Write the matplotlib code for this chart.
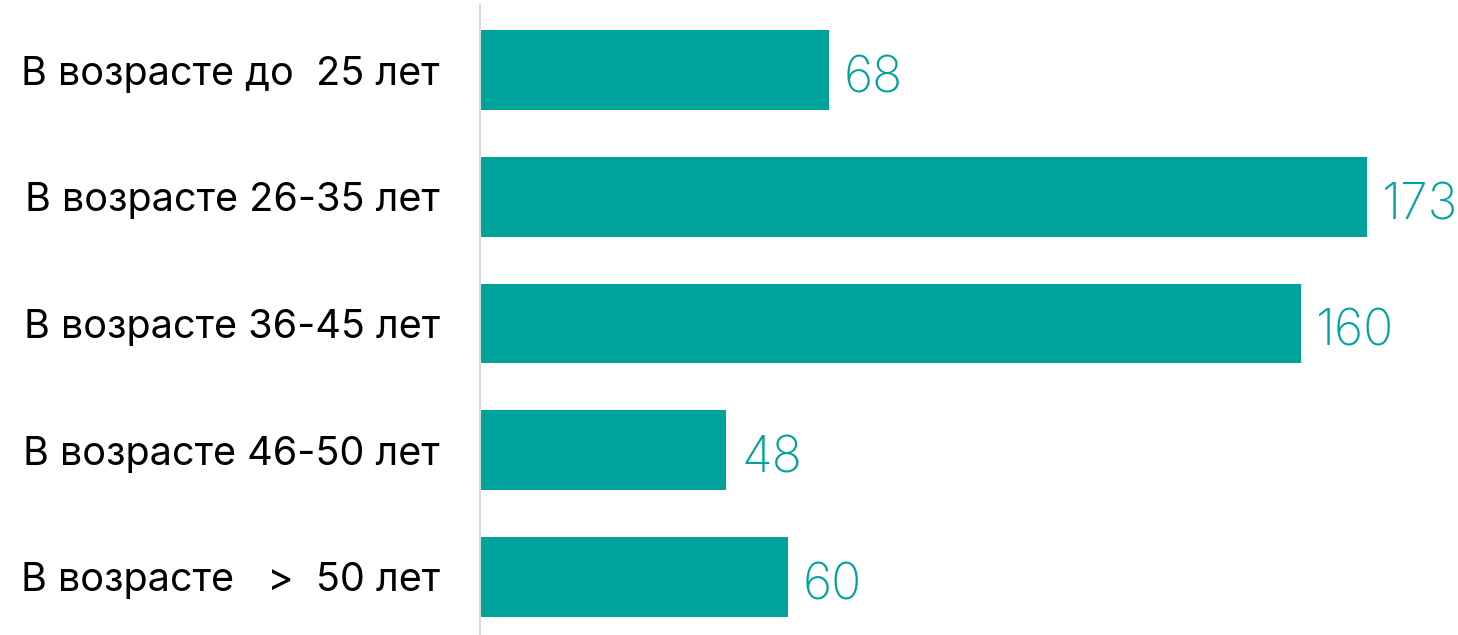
import matplotlib.pyplot as plt

# data
categories = ["В возрасте до  25 лет", "В возрасте 26-35 лет", "В возрасте 36-45 лет",
              "В возрасте 46-50 лет", "В возрасте   >  50 лет"]
values = [68, 173, 160, 48, 60]

teal = "#00A39B"

fig = plt.figure(figsize=(14.58, 6.35), dpi=100)
ax = fig.add_axes([480 / 1458, 0, 978 / 1458, 630 / 635])

y = range(len(values))
ax.barh(y, values, height=0.63, color=teal)

ax.set_xlim(0, 190.7)
ax.set_ylim(4.458, -0.513)

for i, v in enumerate(values):
    ax.text(v + 2.9, i + 0.07, str(v), va="center", ha="left", color=teal,
            fontsize=36, family="Inter", fontweight="light")

ax.set_yticks(list(y))
ax.set_yticklabels(categories, fontsize=28.5, family="Inter")
ax.tick_params(axis="y", length=0, pad=29)
ax.set_xticks([])

for s in ["top", "right", "bottom"]:
    ax.spines[s].set_visible(False)
ax.spines["left"].set_color("#d9d9d9")
ax.spines["left"].set_linewidth(1.5)

fig.savefig("out.png", dpi=100)
